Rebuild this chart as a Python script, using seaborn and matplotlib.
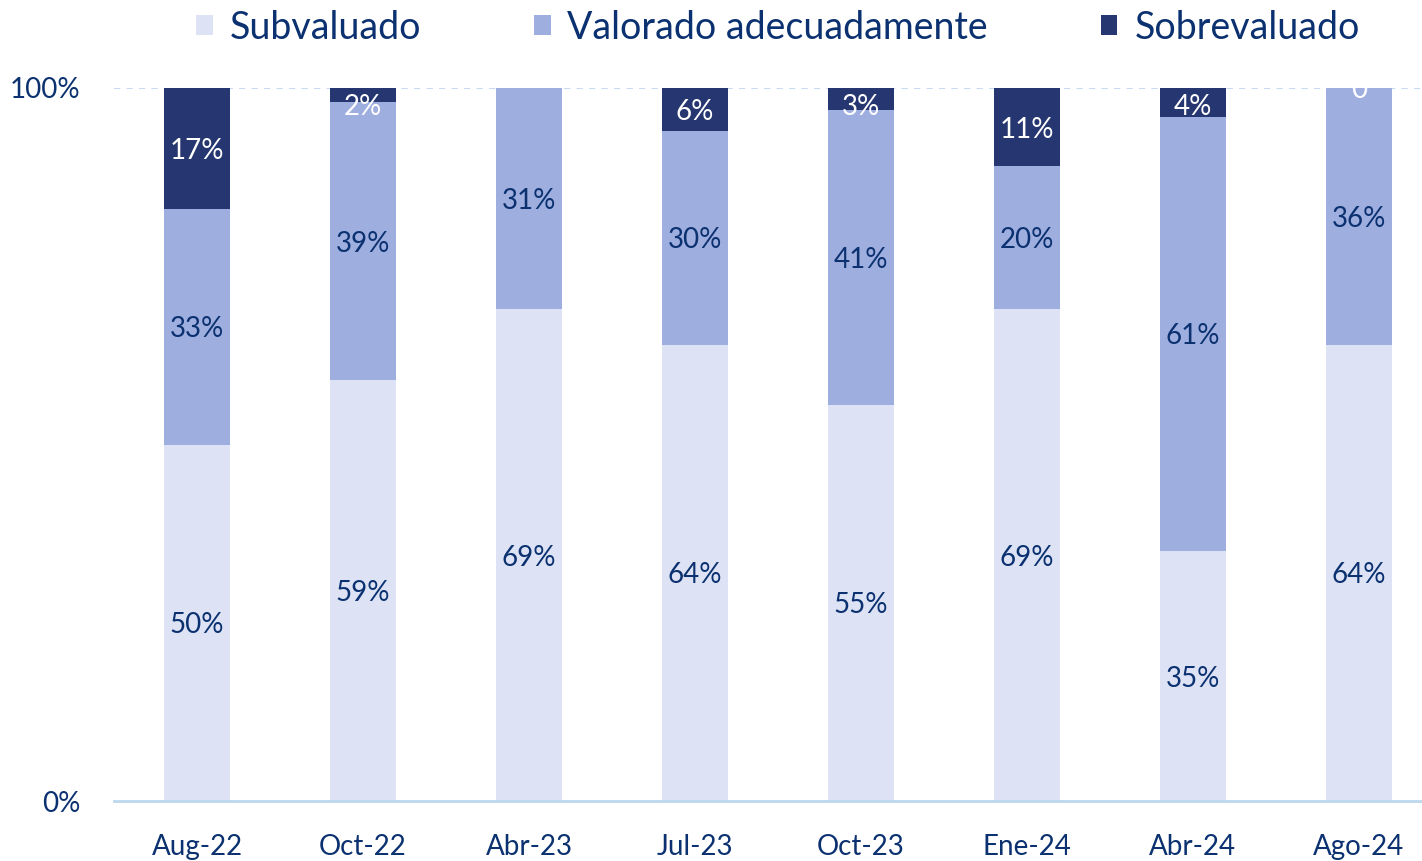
import numpy as np
import pandas as pd
import seaborn as sns
import matplotlib.pyplot as plt
from matplotlib.patches import Patch

periodos = ["Aug-22", "Oct-22", "Abr-23", "Jul-23", "Oct-23", "Ene-24", "Abr-24", "Ago-24"]
subvaluado = [50, 59, 69, 64, 55, 69, 35, 64]
adecuado = [33, 39, 31, 30, 41, 20, 61, 36]
sobrevaluado = [17, 2, 0, 6, 3, 11, 4, 0]
etiquetas_sobre = ["17%", "2%", "", "6%", "3%", "11%", "4%", "0"]

series = ["Subvaluado", "Valorado adecuadamente", "Sobrevaluado"]
colores = ["#DDE3F5", "#9EAEDF", "#253670"]
azul_texto = "#0B3170"

sns.set_theme(style="white")
plt.rcParams["font.family"] = ["Lato", "DejaVu Sans"]

df = pd.DataFrame({"Periodo": periodos, "Subvaluado": subvaluado,
                   "Adecuado": adecuado, "Sobrevaluado": sobrevaluado})
total = df[["Subvaluado", "Adecuado", "Sobrevaluado"]].sum(axis=1)
# 100% apilado
df["p_sub"] = df["Subvaluado"] / total * 100
df["p_ade"] = df["Adecuado"] / total * 100
df["p_sob"] = df["Sobrevaluado"] / total * 100
df["c1"] = df["p_sub"]
df["c2"] = df["p_sub"] + df["p_ade"]
df["c3"] = df["c2"] + df["p_sob"]

fig = plt.figure(figsize=(14.22, 8.61), dpi=100)
ax = fig.add_axes([114 / 1422, 1 - 801 / 861, 1 - 114 / 1422, (801 - 88) / 861])

# capas acumuladas de arriba hacia abajo
for col, c in zip(["c3", "c2", "c1"], colores[::-1]):
    sns.barplot(data=df, x="Periodo", y=col, color=c, width=0.4, saturation=1,
                edgecolor="none", linewidth=0, ax=ax)

fs = 20
for i in range(len(periodos)):
    ax.text(i, df["p_sub"][i] / 2, f"{subvaluado[i]}%", ha="center", va="center_baseline",
            color=azul_texto, fontsize=fs)
    ax.text(i, df["c1"][i] + df["p_ade"][i] / 2, f"{adecuado[i]}%", ha="center",
            va="center_baseline", color=azul_texto, fontsize=fs)
    if etiquetas_sobre[i]:
        if sobrevaluado[i] == 0:
            y = 100
        else:
            # mantener la etiqueta dentro del área del gráfico
            y = min(df["c2"][i] + df["p_sob"][i] / 2, 97.7)
        ax.text(i, y, etiquetas_sobre[i], ha="center", va="center_baseline",
                color="white", fontsize=fs, clip_on=True)

ax.set_xlim(-0.5, 7.38)
ax.set_ylim(0, 100)
ax.set_yticks([0, 100])
ax.set_yticklabels(["0%", "100%"])
ax.set_xlabel("")
ax.set_ylabel("")
ax.tick_params(axis="y", length=0, pad=24, labelsize=20, labelcolor=azul_texto)
ax.tick_params(axis="x", length=0, pad=24, labelsize=20, labelcolor=azul_texto)
for s in ["top", "right", "left"]:
    ax.spines[s].set_visible(False)
ax.spines["bottom"].set_color("#BDD7EE")
ax.spines["bottom"].set_linewidth(2)
ax.axhline(100, color="#C9DAF2", linestyle=(0, (3, 3)), linewidth=1.5, zorder=0.5)

handles = [Patch(facecolor=c, edgecolor="none") for c in colores]
fig.legend(handles, series, loc="center", bbox_to_anchor=(0.547, 0.968), ncol=3,
           frameon=False, fontsize=27, labelcolor=azul_texto, handlelength=0.45,
           handleheight=0.45, handletextpad=0.45, columnspacing=3.0)

fig.savefig("out.png", dpi=100)
